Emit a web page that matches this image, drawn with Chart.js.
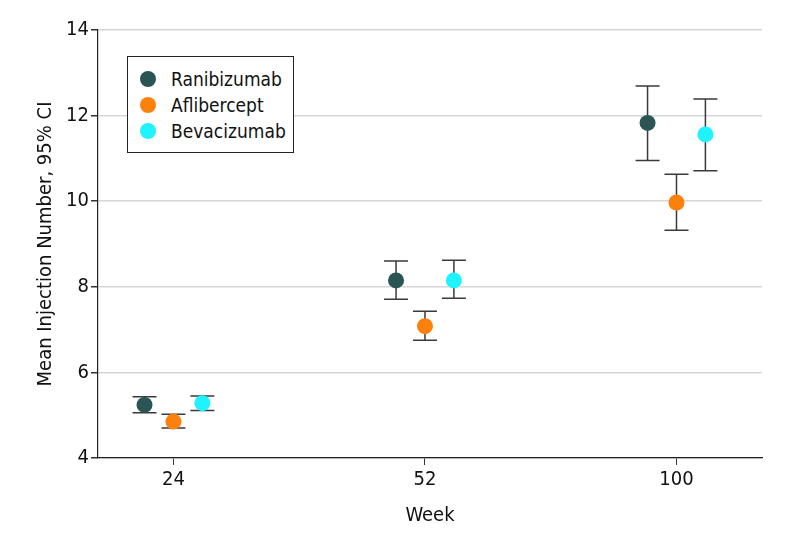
<!DOCTYPE html>
<html lang="en">
<head>
  <meta charset="UTF-8" />
  <title>Mean Injection Number</title>
  <script src="https://cdn.jsdelivr.net/npm/chart.js"></script>
  <style>
    html, body { margin: 0; padding: 0; background: #fff; }
    .wrap { position: relative; width: 794px; height: 542px; }
    canvas { display: block; }
    .legend {
      position: absolute; left: 127px; top: 56px; width: 167px; height: 97px;
      border: 1px solid #222; background: #fff; box-sizing: border-box;
      font-family: 'DejaVu Sans Condensed', sans-serif;
      font-size: 19px; color: #111; padding-top: 9px;
    }
    .legend div { height: 26px; line-height: 26px; padding-left: 43px; position: relative; }
    .legend span {
      position: absolute; left: 12px; top: 5px; width: 16px; height: 16px; border-radius: 50%;
    }
  </style>
</head>
<body>
  <div class="wrap">
    <canvas id="chart" width="794" height="542"></canvas>
    <div class="legend" id="legend"></div>
  </div>

  <script>
    // week categories (x axis tick labels)
    const weeks = ['24', '52', '100'];
    const yTicks = [4, 6, 8, 10, 12, 14];

    const seriesNames = ['Ranibizumab', 'Aflibercept', 'Bevacizumab'];
    const seriesColors = ['#2b5454', '#fb800c', '#1ff3ff'];

    // mean and 95% CI per week
    const ranibizumabMean = [5.24, 8.15, 11.83];
    const ranibizumabLow  = [5.06, 7.71, 10.95];
    const ranibizumabHigh = [5.43, 8.60, 12.69];

    const afliberceptMean = [4.85, 7.08, 9.97];
    const afliberceptLow  = [4.70, 6.75, 9.32];
    const afliberceptHigh = [5.02, 7.43, 10.63];

    const bevacizumabMean = [5.28, 8.15, 11.56];
    const bevacizumabLow  = [5.11, 7.73, 10.71];
    const bevacizumabHigh = [5.45, 8.62, 12.39];

    const means = [ranibizumabMean, afliberceptMean, bevacizumabMean];
    const lows = [ranibizumabLow, afliberceptLow, bevacizumabLow];
    const highs = [ranibizumabHigh, afliberceptHigh, bevacizumabHigh];

    const DODGE = 0.115;
    const FONT = "'DejaVu Sans Condensed', sans-serif";

    // legend
    const legend = document.getElementById('legend');
    seriesNames.forEach((name, i) => {
      const row = document.createElement('div');
      row.innerHTML = '<span style="background:' + seriesColors[i] + '"></span>' + name;
      legend.appendChild(row);
    });

    const datasets = seriesNames.map((name, s) => ({
      label: name,
      data: weeks.map((w, i) => ({ x: i + (s - 1) * DODGE, y: means[s][i], lo: lows[s][i], hi: highs[s][i] })),
      backgroundColor: seriesColors[s],
      borderColor: seriesColors[s],
      pointRadius: 8,
      pointHoverRadius: 8,
      borderWidth: 0
    }));

    const errorBars = {
      id: 'errorBars',
      beforeDatasetsDraw(chart) {
        const ctx = chart.ctx;
        const xs = chart.scales.x, ys = chart.scales.y;
        ctx.save();
        ctx.strokeStyle = '#3a3a3a';
        ctx.lineWidth = 1.5;
        chart.data.datasets.forEach(ds => {
          ds.data.forEach(p => {
            const x = xs.getPixelForValue(p.x);
            const y1 = ys.getPixelForValue(p.lo);
            const y2 = ys.getPixelForValue(p.hi);
            ctx.beginPath();
            ctx.moveTo(x, y1); ctx.lineTo(x, y2);
            ctx.moveTo(x - 12, y1); ctx.lineTo(x + 12, y1);
            ctx.moveTo(x - 12, y2); ctx.lineTo(x + 12, y2);
            ctx.stroke();
          });
        });
        ctx.restore();
      }
    };

    new Chart(document.getElementById('chart'), {
      type: 'scatter',
      data: { datasets },
      plugins: [errorBars],
      options: {
        responsive: false,
        animation: false,
        layout: { padding: { left: 30, right: 32, top: 30, bottom: 10 } },
        plugins: { legend: { display: false }, tooltip: { enabled: false } },
        scales: {
          x: {
            type: 'linear',
            min: -0.3,
            max: 2.34,
            afterBuildTicks: axis => { axis.ticks = weeks.map((w, i) => ({ value: i })); },
            afterFit: axis => { axis.height = 542 - 458 - 10; },
            ticks: {
              callback: v => weeks[v],
              color: '#111',
              font: { family: FONT, size: 20 },
              padding: 3
            },
            grid: { drawOnChartArea: false, tickLength: 7, tickColor: '#333', color: '#333' },
            border: { display: true, color: '#222', width: 1.2 },
            title: { display: true, text: 'Week', color: '#111', font: { family: FONT, size: 20 } }
          },
          y: {
            min: 4,
            max: 14,
            afterBuildTicks: axis => { axis.ticks = yTicks.map(v => ({ value: v })); },
            afterFit: axis => { axis.width = 98 - 30; },
            ticks: { color: '#111', font: { family: FONT, size: 20 }, padding: 2 },
            grid: { color: '#d6d6d6', lineWidth: 1.5, tickLength: 7, tickColor: '#333' },
            border: { display: true, color: '#222', width: 1.2 },
            title: { display: true, text: 'Mean Injection Number, 95% CI', color: '#111', font: { family: FONT, size: 20 } }
          }
        }
      }
    });
  </script>
</body>
</html>
